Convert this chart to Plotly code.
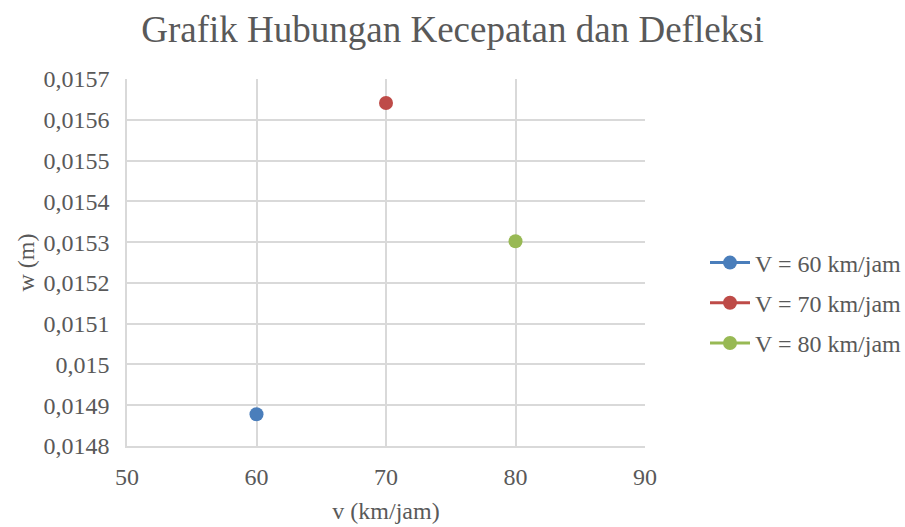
import plotly.graph_objects as go

series_names = ["V = 60 km/jam", "V = 70 km/jam", "V = 80 km/jam"]
speeds = [60, 70, 80]
deflections = [0.014878, 0.015641, 0.015302]
colors = ["#4a7ebb", "#be4b48", "#98b954"]

y_tickvals = [0.0148, 0.0149, 0.015, 0.0151, 0.0152, 0.0153, 0.0154, 0.0155, 0.0156, 0.0157]
y_ticktext = ["0,0148", "0,0149", "0,015", "0,0151", "0,0152", "0,0153", "0,0154", "0,0155", "0,0156", "0,0157"]
x_tickvals = [50, 60, 70, 80, 90]

FONT = "Liberation Serif, Times New Roman, serif"
TXT = "#595959"
GRID = "#d9d9d9"

fig = go.Figure()
for i, (name, x, y, c) in enumerate(zip(series_names, speeds, deflections, colors)):
    fig.add_trace(go.Scatter(
        x=[x], y=[y], name=name, mode="lines+markers", legendgroup=f"g{i}",
        line=dict(color=c, width=3),
        marker=dict(color=c, size=14),
    ))

fig.update_layout(
    width=905, height=527,
    margin=dict(l=127, r=260, t=79, b=81, autoexpand=False),
    paper_bgcolor="white", plot_bgcolor="white",
    font=dict(family=FONT, color=TXT, size=24),
    title=dict(text="Grafik Hubungan Kecepatan dan Defleksi",
               x=0.5, xanchor="center", xref="container", y=0.945, yanchor="middle",
               font=dict(family=FONT, size=37, color=TXT)),
    showlegend=True,
    legend=dict(x=705/905, xref="container", xanchor="left",
                y=1 - 303/527, yref="container", yanchor="middle",
                font=dict(family=FONT, size=24, color=TXT),
                tracegroupgap=6, itemwidth=40,
                bgcolor="rgba(0,0,0,0)"),
)
fig.update_xaxes(range=[50, 90], tickvals=x_tickvals, showgrid=True, gridcolor=GRID, gridwidth=1.5,
                 showline=True, linecolor=GRID, linewidth=1.5, zeroline=False,
                 ticks="outside", ticklen=8, tickcolor="rgba(0,0,0,0)",
                 title=dict(text="v (km/jam)", font=dict(family=FONT, size=24, color=TXT), standoff=14),
                 tickfont=dict(family=FONT, size=24, color=TXT))
fig.update_yaxes(range=[0.0148, 0.0157], tickvals=y_tickvals, ticktext=y_ticktext,
                 showgrid=True, gridcolor=GRID, gridwidth=1.5,
                 showline=True, linecolor=GRID, linewidth=1.5, zeroline=False,
                 ticks="outside", ticklen=11, tickcolor="rgba(0,0,0,0)",
                 title=dict(text="w (m)", font=dict(family=FONT, size=24, color=TXT), standoff=2),
                 tickfont=dict(family=FONT, size=24, color=TXT))

fig.write_html("out.html")
